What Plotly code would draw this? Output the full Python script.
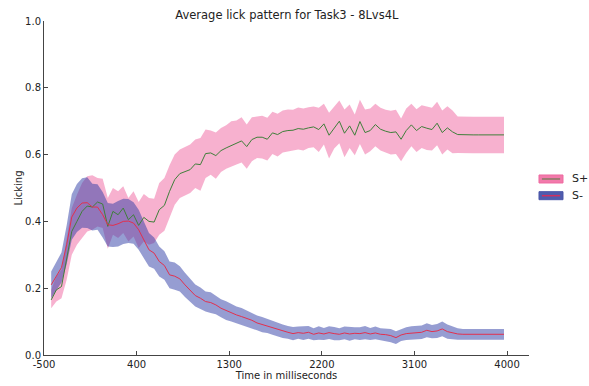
import plotly.graph_objects as go

# ---- data ----
time_ms = list(range(-430, 4020, 50))  # 90 bins

sp_mean = [0.165, 0.195, 0.205, 0.285, 0.370, 0.400, 0.430, 0.446, 0.443, 0.458,
           0.452, 0.385, 0.430, 0.420, 0.440, 0.405, 0.420, 0.388, 0.412, 0.400,
           0.398, 0.435, 0.448, 0.490, 0.525, 0.543, 0.550, 0.555, 0.572, 0.570,
           0.603, 0.605, 0.597, 0.612, 0.620, 0.627, 0.635, 0.641, 0.624, 0.645,
           0.652, 0.652, 0.646, 0.665, 0.660, 0.669, 0.672, 0.673, 0.678, 0.676,
           0.680, 0.683, 0.675, 0.692, 0.658, 0.680, 0.700, 0.664, 0.686, 0.658,
           0.699, 0.666, 0.672, 0.690, 0.676, 0.670, 0.666, 0.668, 0.646, 0.672,
           0.689, 0.672, 0.684, 0.679, 0.675, 0.694, 0.666, 0.680, 0.668, 0.660,
           0.659, 0.659, 0.659, 0.659, 0.659, 0.659, 0.659, 0.659, 0.659, 0.659]

sp_low = [0.140, 0.160, 0.170, 0.225, 0.300, 0.330, 0.350, 0.370, 0.375, 0.385,
          0.380, 0.318, 0.360, 0.350, 0.365, 0.340, 0.355, 0.320, 0.340, 0.330,
          0.335, 0.360, 0.372, 0.410, 0.450, 0.470, 0.478, 0.485, 0.500, 0.492,
          0.530, 0.540, 0.528, 0.548, 0.558, 0.565, 0.570, 0.576, 0.558, 0.580,
          0.590, 0.588, 0.582, 0.602, 0.594, 0.606, 0.610, 0.612, 0.615, 0.612,
          0.620, 0.622, 0.608, 0.630, 0.588, 0.618, 0.634, 0.592, 0.620, 0.598,
          0.632, 0.600, 0.610, 0.625, 0.612, 0.606, 0.600, 0.602, 0.580, 0.605,
          0.625, 0.608, 0.620, 0.614, 0.612, 0.628, 0.600, 0.615, 0.604, 0.605,
          0.604, 0.604, 0.604, 0.604, 0.604, 0.604, 0.604, 0.604, 0.604, 0.604]

sp_high = [0.195, 0.235, 0.255, 0.350, 0.440, 0.480, 0.515, 0.535, 0.538, 0.530,
           0.528, 0.470, 0.500, 0.490, 0.505, 0.470, 0.490, 0.458, 0.482, 0.470,
           0.468, 0.515, 0.530, 0.568, 0.600, 0.615, 0.622, 0.630, 0.645, 0.650,
           0.675, 0.672, 0.666, 0.680, 0.688, 0.700, 0.702, 0.712, 0.690, 0.712,
           0.714, 0.716, 0.710, 0.728, 0.722, 0.732, 0.735, 0.734, 0.741, 0.738,
           0.742, 0.744, 0.740, 0.752, 0.725, 0.742, 0.762, 0.735, 0.750, 0.720,
           0.764, 0.735, 0.738, 0.752, 0.740, 0.734, 0.731, 0.734, 0.708, 0.738,
           0.752, 0.736, 0.748, 0.744, 0.740, 0.758, 0.732, 0.745, 0.732, 0.714,
           0.713, 0.713, 0.713, 0.713, 0.713, 0.713, 0.713, 0.713, 0.713, 0.713]

sm_mean = [0.210, 0.236, 0.262, 0.330, 0.413, 0.440, 0.455, 0.456, 0.443, 0.443,
           0.420, 0.390, 0.388, 0.393, 0.400, 0.401, 0.395, 0.375, 0.345, 0.315,
           0.305, 0.280, 0.268, 0.240, 0.236, 0.228, 0.210, 0.195, 0.178, 0.170,
           0.160, 0.157, 0.150, 0.140, 0.133, 0.126, 0.120, 0.115, 0.110, 0.104,
           0.096, 0.091, 0.087, 0.082, 0.076, 0.071, 0.068, 0.064, 0.067, 0.065,
           0.068, 0.062, 0.066, 0.063, 0.067, 0.064, 0.062, 0.066, 0.063, 0.065,
           0.064, 0.067, 0.063, 0.066, 0.062, 0.061, 0.058, 0.052, 0.060, 0.064,
           0.066, 0.067, 0.068, 0.074, 0.070, 0.072, 0.078, 0.070, 0.066, 0.063,
           0.062, 0.062, 0.062, 0.062, 0.062, 0.062, 0.062, 0.062, 0.062, 0.062]

sm_halfwidth = [0.040, 0.042, 0.045, 0.058, 0.068, 0.072, 0.074, 0.076, 0.070, 0.068,
                0.068, 0.065, 0.065, 0.068, 0.068, 0.066, 0.062, 0.060, 0.055, 0.050,
                0.047, 0.045, 0.043, 0.040, 0.041, 0.038, 0.036, 0.035, 0.033, 0.032,
                0.030, 0.031, 0.028, 0.027, 0.028, 0.026, 0.025, 0.026, 0.024, 0.023,
                0.022, 0.023, 0.021, 0.021, 0.020, 0.020, 0.019, 0.020, 0.018, 0.020,
                0.019, 0.018, 0.020, 0.018, 0.019, 0.020, 0.018, 0.019, 0.020, 0.018,
                0.019, 0.020, 0.018, 0.019, 0.018, 0.019, 0.020, 0.019, 0.018, 0.019,
                0.020, 0.021, 0.020, 0.021, 0.020, 0.021, 0.022, 0.021, 0.019, 0.017,
                0.016, 0.016, 0.016, 0.016, 0.016, 0.016, 0.016, 0.016, 0.016, 0.016]

x_ticks = [-500, 400, 1300, 2200, 3100, 4000]
y_ticks = [0.0, 0.2, 0.4, 0.6, 0.8, 1.0]

sm_low = [m - h for m, h in zip(sm_mean, sm_halfwidth)]
sm_high = [m + h for m, h in zip(sm_mean, sm_halfwidth)]

PINK_FILL = "rgba(240,100,160,0.5)"
BLUE_FILL = "rgba(45,60,165,0.5)"
GREEN = "#3f7f3a"
RED = "#e2304e"

fig = go.Figure()
# S+ band
fig.add_trace(go.Scatter(x=time_ms, y=sp_high, mode="lines", line=dict(width=0),
                         showlegend=False, hoverinfo="skip"))
fig.add_trace(go.Scatter(x=time_ms, y=sp_low, mode="lines", line=dict(width=0),
                         fill="tonexty", fillcolor=PINK_FILL, showlegend=False, hoverinfo="skip"))
# S- band
fig.add_trace(go.Scatter(x=time_ms, y=sm_high, mode="lines", line=dict(width=0),
                         showlegend=False, hoverinfo="skip"))
fig.add_trace(go.Scatter(x=time_ms, y=sm_low, mode="lines", line=dict(width=0),
                         fill="tonexty", fillcolor=BLUE_FILL, showlegend=False, hoverinfo="skip"))
# mean lines
fig.add_trace(go.Scatter(x=time_ms, y=sp_mean, mode="lines", name="S+",
                         line=dict(color=GREEN, width=1), showlegend=False))
fig.add_trace(go.Scatter(x=time_ms, y=sm_mean, mode="lines", name="S-",
                         line=dict(color=RED, width=1), showlegend=False))

# manual legend (patch + line + label)
def legend_entry(y_mid, fill, border, linecolor, label):
    x0, x1 = 1.0206, 1.0701
    h = 0.012
    fig.add_shape(type="rect", xref="paper", yref="paper", x0=x0, x1=x1,
                  y0=y_mid - h, y1=y_mid + h, fillcolor=fill,
                  line=dict(color=border, width=1))
    fig.add_shape(type="line", xref="paper", yref="paper", x0=x0 + 0.006, x1=x1 - 0.006,
                  y0=y_mid, y1=y_mid, line=dict(color=linecolor, width=1.5))
    fig.add_annotation(xref="paper", yref="paper", x=1.084, y=y_mid, text=label,
                       showarrow=False, xanchor="left", yanchor="middle",
                       font=dict(family="DejaVu Sans", size=11, color="#222"))

legend_entry(0.527, "#f27aab", "#ee6aa0", "#857a62", "S+")
legend_entry(0.477, "#4f5cae", "#4a56a8", "#cf3060", "S-")

fig.update_layout(
    width=589, height=386,
    margin=dict(l=44, r=60, t=21, b=31),
    paper_bgcolor="white", plot_bgcolor="white",
    font=dict(family="DejaVu Sans", size=10, color="#222"),
    title=dict(text="Average lick pattern for Task3 - 8Lvs4L", x=0.487, xanchor="center",
               y=0.962, yanchor="middle", font=dict(size=11.5, color="#222")),
    showlegend=False,
)
fig.update_xaxes(range=[-500, 4213], tickvals=x_ticks, ticktext=[str(v) for v in x_ticks],
                 showgrid=False, zeroline=False, showline=True, linecolor="#444",
                 linewidth=1, ticks="inside", ticklen=4, tickcolor="#444", automargin=False,
                 title=dict(text="Time in milliseconds", standoff=0, font=dict(size=10)),
                 tickfont=dict(size=10))
fig.update_yaxes(range=[0, 1], tickvals=y_ticks, ticktext=["%.1f" % v for v in y_ticks],
                 showgrid=False, zeroline=False, showline=True, linecolor="#444",
                 linewidth=1, ticks="inside", ticklen=4, tickcolor="#444", automargin=False,
                 title=dict(text="Licking", standoff=0, font=dict(size=10)),
                 tickfont=dict(size=10))

fig.write_html("out.html")
